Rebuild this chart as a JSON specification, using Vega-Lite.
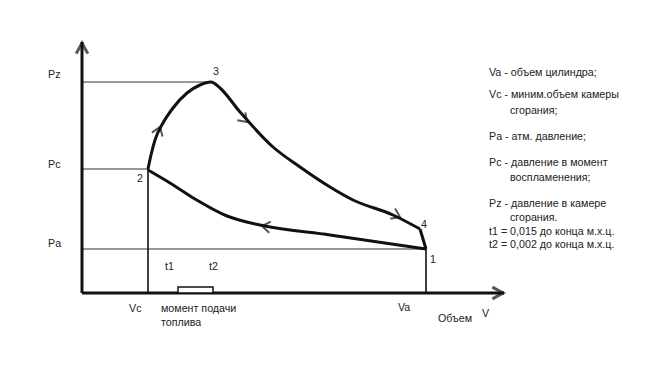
{
  "$schema": "https://vega.github.io/schema/vega-lite/v6.json",
  "width": 661,
  "height": 372,
  "autosize": {"type": "none"},
  "padding": 0,
  "background": "white",
  "config": {"view": {"stroke": null}},
  "datasets": {
    "axes": [
      {"V": 0, "P": 0, "V2": 0, "P2": 251},
      {"V": 0, "P": 0, "V2": 422, "P2": 0}
    ],
    "guides": [
      {"name": "Pz", "V": 0, "P": 211, "V2": 129, "P2": 211},
      {"name": "Pc", "V": 0, "P": 124, "V2": 66, "P2": 124},
      {"name": "Pa", "V": 0, "P": 44, "V2": 344, "P2": 44}
    ],
    "verticals": [
      {"name": "Vc", "V": 66, "P": 0, "V2": 66, "P2": 124},
      {"name": "Va", "V": 344, "P": 0, "V2": 344, "P2": 44}
    ],
    "cycle": [
      {"seg": "2-3-4", "ord": 1, "V": 66, "P": 124},
      {"seg": "2-3-4", "ord": 2, "V": 69, "P": 138},
      {"seg": "2-3-4", "ord": 3, "V": 73, "P": 153},
      {"seg": "2-3-4", "ord": 4, "V": 81, "P": 170},
      {"seg": "2-3-4", "ord": 5, "V": 91, "P": 185},
      {"seg": "2-3-4", "ord": 6, "V": 105, "P": 200},
      {"seg": "2-3-4", "ord": 7, "V": 118, "P": 208},
      {"seg": "2-3-4", "ord": 8, "V": 129, "P": 211},
      {"seg": "2-3-4", "ord": 9, "V": 138, "P": 205},
      {"seg": "2-3-4", "ord": 10, "V": 158, "P": 181},
      {"seg": "2-3-4", "ord": 11, "V": 191, "P": 146},
      {"seg": "2-3-4", "ord": 12, "V": 218, "P": 126},
      {"seg": "2-3-4", "ord": 13, "V": 248, "P": 106},
      {"seg": "2-3-4", "ord": 14, "V": 271, "P": 93},
      {"seg": "2-3-4", "ord": 15, "V": 311, "P": 78},
      {"seg": "2-3-4", "ord": 16, "V": 338, "P": 64},
      {"seg": "4-1", "ord": 1, "V": 338, "P": 64},
      {"seg": "4-1", "ord": 2, "V": 344, "P": 44},
      {"seg": "1-2", "ord": 1, "V": 66, "P": 123},
      {"seg": "1-2", "ord": 2, "V": 88, "P": 110},
      {"seg": "1-2", "ord": 3, "V": 113, "P": 94},
      {"seg": "1-2", "ord": 4, "V": 145, "P": 77},
      {"seg": "1-2", "ord": 5, "V": 178, "P": 68},
      {"seg": "1-2", "ord": 6, "V": 248, "P": 58},
      {"seg": "1-2", "ord": 7, "V": 344, "P": 44}
    ],
    "flow": [
      {"V": 78, "P": 166, "dir": 290},
      {"V": 165, "P": 171, "dir": 45},
      {"V": 318, "P": 76, "dir": 25},
      {"V": 180, "P": 67, "dir": 188}
    ],
    "heads": [
      {"V": 0, "P": 250, "dir": 270},
      {"V": 421, "P": 0, "dir": 0}
    ],
    "fuel": [
      {"V": 96, "P": 0, "V2": 131, "P2": 6}
    ],
    "labels": [
      {"V": -34, "P": 218, "t": "Pz"},
      {"V": -34, "P": 128, "t": "Pc"},
      {"V": -34, "P": 49, "t": "Pa"},
      {"V": 131, "P": 221, "t": "3"},
      {"V": 55, "P": 114, "t": "2"},
      {"V": 339, "P": 68, "t": "4"},
      {"V": 348, "P": 33, "t": "1"},
      {"V": 83, "P": 26, "t": "t1"},
      {"V": 127, "P": 26, "t": "t2"},
      {"V": 47, "P": -16, "t": "Vc"},
      {"V": 79, "P": -16, "t": "момент подачи"},
      {"V": 79, "P": -30, "t": "топлива"},
      {"V": 316, "P": -15, "t": "Va"},
      {"V": 356, "P": -26, "t": "Объем"},
      {"V": 400, "P": -21, "t": "V"},
      {"V": 407, "P": 220, "t": "Va - объем цилиндра;"},
      {"V": 407, "P": 198, "t": "Vc - миним.объем камеры"},
      {"V": 428, "P": 182, "t": "сгорания;"},
      {"V": 407, "P": 156, "t": "Pa - атм. давление;"},
      {"V": 407, "P": 130, "t": "Pc - давление в момент"},
      {"V": 428, "P": 115, "t": "воспламенения;"},
      {"V": 407, "P": 89, "t": "Pz - давление в камере"},
      {"V": 428, "P": 75, "t": "сгорания."},
      {"V": 407, "P": 61, "t": "t1 = 0,015 до конца м.х.ц."},
      {"V": 407, "P": 48, "t": "t2 = 0,002 до конца м.х.ц."}
    ]
  },
  "encoding": {
    "x": {"field": "V", "type": "quantitative", "scale": {"domain": [-82, 579], "nice": false, "zero": false}, "axis": null},
    "y": {"field": "P", "type": "quantitative", "scale": {"domain": [-79, 293], "nice": false, "zero": false}, "axis": null}
  },
  "layer": [
    {
      "data": {"name": "guides"},
      "mark": {"type": "rule", "color": "#333333", "strokeWidth": 1},
      "encoding": {"x2": {"field": "V2"}, "y2": {"field": "P2"}}
    },
    {
      "data": {"name": "verticals"},
      "mark": {"type": "rule", "color": "#111111", "strokeWidth": 1.6},
      "encoding": {"x2": {"field": "V2"}, "y2": {"field": "P2"}}
    },
    {
      "data": {"name": "axes"},
      "mark": {"type": "rule", "color": "#111111", "strokeWidth": 3},
      "encoding": {"x2": {"field": "V2"}, "y2": {"field": "P2"}}
    },
    {
      "data": {"name": "heads"},
      "mark": {"type": "point", "shape": "M -1 -0.55 L 0 0 L -1 0.55", "filled": false, "stroke": "#111111", "strokeWidth": 3, "size": 450},
      "encoding": {"angle": {"field": "dir", "type": "quantitative", "scale": null}}
    },
    {
      "data": {"name": "fuel"},
      "mark": {"type": "rect", "fill": "white", "stroke": "#111111", "strokeWidth": 1.5},
      "encoding": {"x2": {"field": "V2"}, "y2": {"field": "P2"}}
    },
    {
      "data": {"name": "cycle"},
      "mark": {"type": "line", "color": "#111111", "strokeWidth": 3, "interpolate": "monotone"},
      "encoding": {
        "detail": {"field": "seg", "type": "nominal"},
        "order": {"field": "ord", "type": "quantitative"}
      }
    },
    {
      "data": {"name": "flow"},
      "mark": {"type": "point", "shape": "M -1 -0.7 L 0 0 L -1 0.7", "filled": false, "stroke": "#111111", "strokeWidth": 2, "size": 260},
      "encoding": {"angle": {"field": "dir", "type": "quantitative", "scale": null}}
    },
    {
      "data": {"name": "labels"},
      "mark": {"type": "text", "align": "left", "baseline": "middle", "font": "Liberation Sans", "fontSize": 10.7, "color": "#222222"},
      "encoding": {"text": {"field": "t", "type": "nominal"}}
    }
  ]
}
